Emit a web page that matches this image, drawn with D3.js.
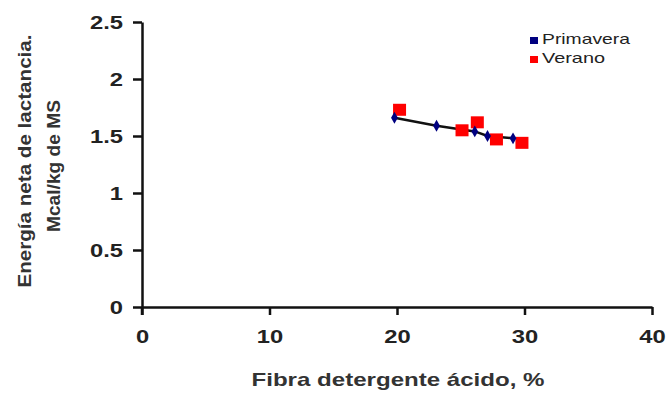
<!DOCTYPE html>
<html><head><meta charset="utf-8">
<script src="https://cdn.jsdelivr.net/npm/d3@7"></script>
<style>body{margin:0;background:#fff}svg{display:block}</style>
</head><body>
<script>
const xTicks = [0, 10, 20, 30, 40];
const yTicks = [0, 0.5, 1, 1.5, 2, 2.5];
const yTickLabels = ["0", "0.5", "1", "1.5", "2", "2.5"];
const primaveraX = [19.8, 23.1, 26.1, 27.1, 29.1];
const primaveraY = [1.66, 1.59, 1.54, 1.50, 1.48];
const veranoX = [20.2, 25.1, 26.3, 27.8, 29.8];
const veranoY = [1.73, 1.55, 1.62, 1.47, 1.44];
const seriesNames = ["Primavera", "Verano"];
const seriesColors = ["#000080", "#ff0000"];

const W = 671, H = 393;
const svg = d3.select("body").append("svg").attr("width", W).attr("height", H);
const x = d3.scaleLinear().domain([0, 40]).range([142, 652]);
const y = d3.scaleLinear().domain([0, 2.5]).range([307, 22]);

const font = "'Liberation Sans', Arial, sans-serif";
function stretch(sel, f) {
  sel.each(function() {
    const w = this.getComputedTextLength();
    d3.select(this).attr("textLength", w * f).attr("lengthAdjust", "spacingAndGlyphs");
  });
}

const xAxis = svg.append("g").attr("transform", `translate(0,${y(0)})`)
  .call(d3.axisBottom(x).tickValues(xTicks).tickSize(8).tickPadding(15).tickSizeOuter(0));
const yAxis = svg.append("g").attr("transform", `translate(${x(0)},0)`)
  .call(d3.axisLeft(y).tickValues(yTicks).tickFormat((d,i)=>yTickLabels[i]).tickSize(9).tickPadding(10).tickSizeOuter(0));
[xAxis, yAxis].forEach(a => {
  a.select(".domain").attr("stroke", "#111").attr("stroke-width", 2.5);
  a.selectAll(".tick line").attr("stroke", "#111").attr("stroke-width", 2.5);
  a.selectAll(".tick text").attr("font-family", font).attr("font-weight", "bold")
    .attr("font-size", 19).attr("fill", "#222");
  stretch(a.selectAll(".tick text"), 1.25);
});
// y-axis extends below 0 (cross)
svg.append("line").attr("x1", x(0)).attr("x2", x(0)).attr("y1", y(0)).attr("y2", y(0)+8)
  .attr("stroke", "#111").attr("stroke-width", 2.5);

// axis titles
svg.append("text").attr("x", 398).attr("y", 386).attr("text-anchor", "middle")
  .attr("font-family", font).attr("font-weight", "bold").attr("font-size", 19).attr("fill", "#333")
  .attr("textLength", 293).attr("lengthAdjust", "spacingAndGlyphs")
  .text("Fibra detergente ácido, %");
const yt = svg.append("text").attr("transform", "translate(31,161) rotate(-90)")
  .attr("text-anchor", "middle").attr("font-family", font).attr("font-weight", "bold")
  .attr("font-size", 19).attr("fill", "#333");
yt.append("tspan").attr("x", 0).attr("y", 0)
  .attr("textLength", 253).attr("lengthAdjust", "spacingAndGlyphs").text("Energía neta de lactancia.");
yt.append("tspan").attr("x", -5).attr("y", 29)
  .attr("textLength", 132).attr("lengthAdjust", "spacingAndGlyphs").text("Mcal/kg de MS");

// line through Primavera points
const pts = primaveraX.map((d, i) => [d, primaveraY[i]]);
svg.append("path").datum(pts)
  .attr("d", d3.line().x(d => x(d[0])).y(d => y(d[1])))
  .attr("fill", "none").attr("stroke", "#111").attr("stroke-width", 2.5);

// Verano squares
svg.selectAll(".ver").data(veranoX.map((d, i) => [d, veranoY[i]])).enter().append("rect")
  .attr("x", d => x(d[0]) - 6.5).attr("y", d => y(d[1]) - 6).attr("width", 13).attr("height", 12)
  .attr("fill", seriesColors[1]);
// Primavera diamonds
svg.selectAll(".pri").data(pts).enter().append("path")
  .attr("transform", d => `translate(${x(d[0])},${y(d[1])})`)
  .attr("d", d3.symbol().type(d3.symbolDiamond).size(40))
  .attr("fill", seriesColors[0]);

// legend
const lg = svg.append("g");
const legLen = [88, 63];
seriesNames.forEach((n, i) => {
  lg.append("rect").attr("x", 530).attr("y", 37 + i * 19).attr("width", 8).attr("height", 7)
    .attr("fill", seriesColors[i]);
  lg.append("text").attr("x", 542).attr("y", 44 + i * 19).attr("font-family", font)
    .attr("font-size", 15).attr("fill", "#222")
    .attr("textLength", legLen[i]).attr("lengthAdjust", "spacingAndGlyphs").text(n);
});
</script>
</body></html>
